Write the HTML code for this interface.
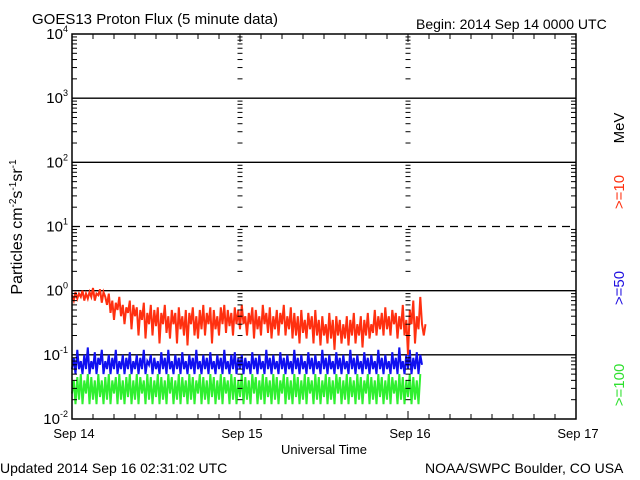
<!DOCTYPE html>
<html><head><meta charset="utf-8"><style>
body{margin:0;background:#fff;}
svg{display:block;font-family:"Liberation Sans",sans-serif;}
</style></head><body>
<svg id="chart" width="640" height="480" viewBox="0 0 640 480">
<rect width="640" height="480" fill="#fff"/>
<text x="32" y="24" font-size="15">GOES13 Proton Flux (5 minute data)</text>
<text x="416" y="29" font-size="14">Begin: 2014 Sep 14 0000 UTC</text>
<text x="0" y="473" font-size="14">Updated 2014 Sep 16 02:31:02 UTC</text>
<text x="425" y="473" font-size="14">NOAA/SWPC Boulder, CO USA</text>
<text x="324" y="454" font-size="13" text-anchor="middle">Universal Time</text>
<text transform="translate(22,227) rotate(-90)" font-size="16" text-anchor="middle">Particles cm<tspan dy="-6" font-size="10">-2</tspan><tspan dy="6">s</tspan><tspan dy="-6" font-size="10">-1</tspan><tspan dy="6">sr</tspan><tspan dy="-6" font-size="10">-1</tspan></text>
<text transform="translate(624,128) rotate(-90)" font-size="15" text-anchor="middle">MeV</text>
<text transform="translate(624,192) rotate(-90)" font-size="15" fill="#ff3010" text-anchor="middle">&gt;=10</text>
<text transform="translate(624,288) rotate(-90)" font-size="15" fill="#2010e0" text-anchor="middle">&gt;=50</text>
<text transform="translate(624,385) rotate(-90)" font-size="15" fill="#30e030" text-anchor="middle">&gt;=100</text>
<g id="grid"></g><g id="series"></g><g id="axes"></g>
</svg>
<script>
const yExponents=[-2,-1,0,1,2,3,4];
const dayLabels=["Sep 14","Sep 15","Sep 16","Sep 17"];
const p10=[0.85,0.7,0.95,0.75,0.9,0.8,1.0,0.7,0.9,0.75,0.95,0.8,1.1,0.7,0.9,0.85,1.05,0.65,0.95,0.8,0.6,0.9,0.45,0.7,0.35,0.65,0.5,0.8,0.4,0.6,0.3,0.55,0.45,0.7,0.25,0.6,0.4,0.55,0.2,0.5,0.35,0.65,0.18,0.45,0.3,0.6,0.2,0.5,0.28,0.55,0.15,0.45,0.3,0.6,0.22,0.4,0.18,0.5,0.3,0.45,0.15,0.55,0.25,0.4,0.2,0.5,0.14,0.45,0.3,0.55,0.2,0.4,0.18,0.5,0.25,0.6,0.2,0.45,0.3,0.55,0.15,0.5,0.25,0.4,0.2,0.55,0.3,0.6,0.22,0.5,0.28,0.45,0.2,0.55,0.3,0.5,0.25,0.6,0.3,0.4,0.2,0.45,0.3,0.55,0.18,0.5,0.25,0.4,0.2,0.6,0.3,0.45,0.22,0.55,0.18,0.4,0.25,0.5,0.2,0.45,0.3,0.6,0.2,0.4,0.25,0.55,0.18,0.45,0.2,0.4,0.15,0.5,0.22,0.35,0.18,0.45,0.25,0.4,0.15,0.5,0.2,0.35,0.14,0.4,0.2,0.3,0.15,0.45,0.18,0.35,0.12,0.4,0.2,0.35,0.15,0.3,0.18,0.4,0.14,0.35,0.2,0.45,0.15,0.3,0.2,0.4,0.13,0.35,0.2,0.45,0.18,0.3,0.22,0.5,0.2,0.4,0.25,0.45,0.2,0.55,0.25,0.4,0.2,0.5,0.3,0.45,0.18,0.4,0.25,0.6,0.2,0.35,0.1,0.5,0.3,0.7,0.15,0.4,0.25,0.8,0.3,0.2,0.3];
const p50=[0.06,0.09,0.05,0.12,0.06,0.08,0.05,0.1,0.06,0.13,0.05,0.08,0.06,0.11,0.05,0.09,0.07,0.12,0.05,0.08,0.06,0.1,0.05,0.09,0.06,0.12,0.05,0.08,0.06,0.1,0.05,0.09,0.06,0.11,0.05,0.08,0.06,0.1,0.05,0.09,0.06,0.12,0.05,0.08,0.07,0.1,0.05,0.09,0.06,0.08,0.05,0.11,0.06,0.09,0.05,0.12,0.06,0.08,0.05,0.1,0.06,0.09,0.05,0.11,0.06,0.08,0.05,0.1,0.06,0.09,0.05,0.12,0.06,0.08,0.05,0.1,0.06,0.09,0.05,0.11,0.06,0.08,0.05,0.1,0.06,0.09,0.05,0.12,0.06,0.08,0.05,0.1,0.06,0.11,0.05,0.09,0.06,0.1,0.05,0.09,0.06,0.08,0.05,0.11,0.06,0.09,0.05,0.1,0.06,0.08,0.05,0.12,0.06,0.09,0.05,0.1,0.06,0.08,0.05,0.11,0.06,0.09,0.05,0.1,0.06,0.08,0.05,0.12,0.06,0.09,0.05,0.1,0.06,0.08,0.05,0.11,0.06,0.09,0.05,0.1,0.06,0.08,0.05,0.12,0.06,0.09,0.05,0.1,0.06,0.08,0.05,0.11,0.06,0.09,0.05,0.1,0.06,0.08,0.05,0.12,0.06,0.09,0.05,0.1,0.06,0.08,0.05,0.11,0.06,0.09,0.05,0.1,0.06,0.08,0.05,0.12,0.06,0.09,0.05,0.1,0.06,0.08,0.05,0.11,0.06,0.09,0.05,0.13,0.06,0.08,0.05,0.1,0.06,0.12,0.05,0.09,0.06,0.11,0.05,0.1,0.07];
const p100=[0.025,0.04,0.017,0.045,0.02,0.05,0.017,0.04,0.025,0.05,0.017,0.045,0.02,0.04,0.017,0.05,0.022,0.04,0.017,0.045,0.02,0.05,0.017,0.04,0.025,0.045,0.017,0.05,0.02,0.04,0.017,0.045,0.022,0.05,0.017,0.04,0.02,0.05,0.017,0.045,0.025,0.04,0.017,0.05,0.02,0.045,0.017,0.04,0.022,0.05,0.017,0.045,0.02,0.04,0.017,0.05,0.025,0.045,0.017,0.04,0.02,0.05,0.017,0.045,0.022,0.04,0.017,0.05,0.02,0.045,0.017,0.04,0.025,0.05,0.017,0.045,0.02,0.04,0.017,0.05,0.022,0.045,0.017,0.04,0.02,0.05,0.017,0.045,0.025,0.04,0.017,0.05,0.02,0.045,0.017,0.04,0.022,0.05,0.017,0.045,0.02,0.04,0.017,0.05,0.025,0.045,0.017,0.04,0.02,0.05,0.017,0.045,0.022,0.04,0.017,0.05,0.02,0.045,0.017,0.04,0.025,0.05,0.017,0.045,0.02,0.04,0.017,0.05,0.022,0.045,0.017,0.04,0.02,0.05,0.017,0.045,0.025,0.04,0.017,0.05,0.02,0.045,0.017,0.04,0.022,0.05,0.017,0.045,0.02,0.04,0.017,0.05,0.025,0.045,0.017,0.04,0.02,0.05,0.017,0.045,0.022,0.04,0.017,0.05,0.02,0.045,0.017,0.04,0.025,0.05,0.017,0.045,0.02,0.04,0.017,0.05,0.022,0.045,0.017,0.04,0.02,0.05,0.017,0.045,0.025,0.04,0.017,0.05,0.02,0.045,0.017,0.04,0.022,0.05,0.017,0.045,0.02,0.04,0.017,0.05];
const stepHours=0.25;
const L=72,R=576,T=34,B=419;
const xH=h=>L+(R-L)*h/72;
const yV=v=>B-(B-T)*(Math.log10(v)+2)/6;
const NS="http://www.w3.org/2000/svg";
function mk(tag,attrs,parent){const e=document.createElementNS(NS,tag);for(const k in attrs)e.setAttribute(k,attrs[k]);parent.appendChild(e);return e;}
const grid=document.getElementById('grid'),axes=document.getElementById('axes'),series=document.getElementById('series');
yExponents.slice(1,-1).forEach(e=>{
 const y=yV(Math.pow(10,e));
 const ln=mk('line',{x1:L,x2:R,y1:y,y2:y,stroke:'#000','stroke-width':1.3,'stroke-dasharray':e===1?'8,6':'none'},grid);
 
 
});
for(let e=-2;e<4;e++){for(let m=2;m<=9;m++){
 const y=yV(m*Math.pow(10,e));
 mk('line',{x1:L,x2:L+5,y1:y,y2:y,stroke:'#000'},axes);
 mk('line',{x1:R-5,x2:R,y1:y,y2:y,stroke:'#000'},axes);
 [1,2].forEach(d=>{const x=xH(d*24);mk('line',{x1:x-2.5,x2:x+2.5,y1:y,y2:y,stroke:'#000'},axes);});
}}
for(let h=0;h<=72;h+=3){
 const x=xH(h),len=h%24===0?8:5;
 mk('line',{x1:x,x2:x,y1:B,y2:B-len,stroke:'#000'},axes);
 mk('line',{x1:x,x2:x,y1:T,y2:T+len,stroke:'#000'},axes);
}
const fr=mk('rect',{x:L,y:T,width:R-L,height:B-T,fill:'none',stroke:'#000','stroke-width':1.5},axes);


yExponents.forEach(e=>{
 const y=yV(Math.pow(10,e));
 const t=mk('text',{x:L-4,y:y+5,'font-size':15,'text-anchor':'end'},axes);
 
 
 t.innerHTML='10<tspan dy="-7" font-size="9">'+e+'</tspan>';
});
dayLabels.forEach((d,i)=>{
 const t=mk('text',{x:xH(i*24)+2,y:438,'font-size':13,'text-anchor':'middle'},axes);
 
 
 t.textContent=d;
});
function drawSeries(vals,color,name){
 const pts=vals.map((v,i)=>xH(i*stepHours).toFixed(1)+','+yV(v).toFixed(1)).join(' ');
 const pl=mk('polyline',{points:pts,fill:'none',stroke:color,'stroke-width':2},series);
 
 
}
drawSeries(p100,'#30f030','series-100mev');
drawSeries(p50,'#1010f0','series-50mev');
drawSeries(p10,'#ff3010','series-10mev');
</script>
</body></html>
